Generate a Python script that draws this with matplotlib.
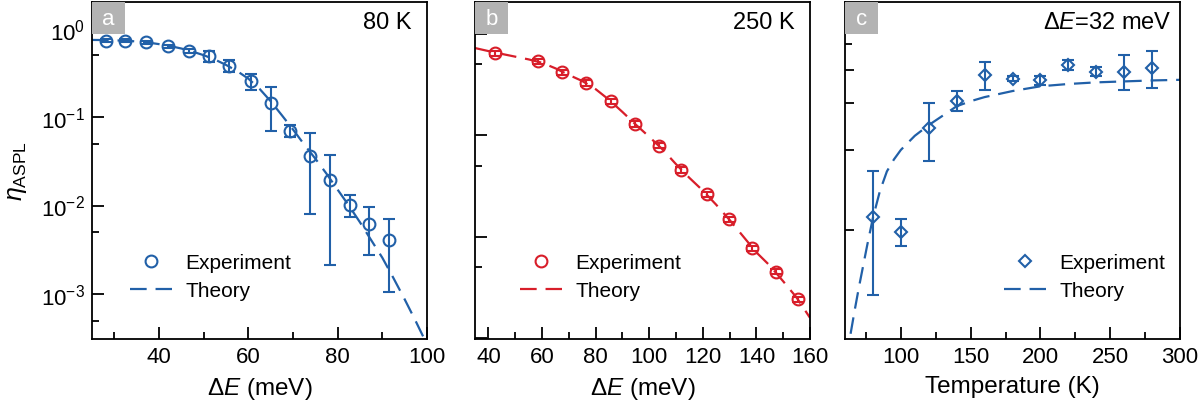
import matplotlib
matplotlib.use("Agg")
import matplotlib.pyplot as plt
from matplotlib.patches import Rectangle
from matplotlib.lines import Line2D
from matplotlib.ticker import FixedLocator, NullFormatter, LogFormatterSciNotation

plt.rcParams['font.family'] = ['Liberation Sans', 'DejaVu Sans']
plt.rcParams['mathtext.fontset'] = 'custom'
plt.rcParams['mathtext.rm'] = 'Liberation Sans'
plt.rcParams['mathtext.it'] = 'Liberation Sans:italic'
plt.rcParams['mathtext.sf'] = 'Liberation Sans'

# ---------------- data ----------------
# Panel a: 80 K
a_E = [28.1, 32.5, 37.2, 42.1, 46.7, 51.2, 55.7, 60.5, 65.0, 69.3, 73.8, 78.3, 82.8, 87.1, 91.6]
a_eta = [0.73, 0.73, 0.70, 0.63, 0.56, 0.49, 0.38, 0.258, 0.143, 0.070, 0.0366, 0.0196, 0.0102, 0.0062, 0.0041]
a_lo = [0.70, 0.70, 0.67, 0.60, 0.53, 0.42, 0.32, 0.205, 0.070, 0.060, 0.0080, 0.00215, 0.0074, 0.00279, 0.00105]
a_hi = [0.76, 0.76, 0.73, 0.66, 0.59, 0.56, 0.44, 0.31, 0.217, 0.082, 0.0656, 0.0376, 0.0132, 0.0096, 0.0071]
a_th_E = [25, 27.5, 30, 32.5, 35, 37.5, 40, 42.5, 45, 47.5, 50, 52.5, 55, 57.5, 60, 62.5, 65,
          67.5, 70, 72.5, 75, 77.5, 80, 82.5, 85, 87.5, 90, 92.5, 95, 97.5, 100]
a_th_eta = [0.745, 0.743, 0.738, 0.730, 0.716, 0.697, 0.668, 0.635, 0.596, 0.550, 0.501, 0.447,
            0.389, 0.331, 0.272, 0.209, 0.151, 0.105, 0.0724, 0.0490, 0.0339, 0.0229, 0.0151,
            0.0100, 0.00646, 0.00407, 0.00257, 0.00151, 0.000871, 0.000490, 0.000269]

# Panel b: 250 K
b_E = [42.5, 58.6, 67.5, 76.6, 85.6, 94.6, 103.6, 111.7, 121.4, 129.7, 138.5, 147.4, 155.5]
b_eta = [0.645, 0.537, 0.419, 0.328, 0.217, 0.129, 0.0789, 0.0454, 0.0263, 0.0149, 0.00767, 0.00451, 0.00242]
b_rel_err = [0.06, 0.06, 0.06, 0.06, 0.06, 0.06, 0.06, 0.06, 0.06, 0.06, 0.06, 0.06, 0.06]
b_th_E = [35, 40, 45, 50, 55, 60, 65, 70, 75, 80, 85, 90, 95, 100, 105, 110, 115, 120, 125,
          130, 135, 140, 145, 150, 155, 160]
b_th_log = [-0.140, -0.170, -0.198, -0.225, -0.252, -0.285, -0.340, -0.405, -0.465, -0.545,
            -0.650, -0.770, -0.895, -1.015, -1.140, -1.285, -1.420, -1.545, -1.685, -1.835,
            -1.995, -2.155, -2.285, -2.440, -2.600, -2.800]

# Panel c: dE = 32 meV
c_T = [80, 100, 120, 140, 160, 180, 200, 220, 240, 260, 280]
c_eta = [0.112, 0.0986, 0.241, 0.306, 0.383, 0.370, 0.366, 0.417, 0.394, 0.394, 0.408]
c_lo = [0.0571, 0.0869, 0.182, 0.281, 0.336, 0.362, 0.352, 0.400, 0.380, 0.336, 0.341]
c_hi = [0.166, 0.110, 0.300, 0.332, 0.430, 0.378, 0.378, 0.437, 0.409, 0.455, 0.472]
c_th_T = [64, 67, 70, 73, 76, 80, 85, 90, 95, 100, 110, 120, 130, 140, 150, 160, 180, 200,
          220, 240, 260, 280, 300]
c_th_eta = [0.0407, 0.0501, 0.0610, 0.0733, 0.0881, 0.111, 0.140, 0.166, 0.184, 0.200, 0.226,
            0.248, 0.269, 0.292, 0.305, 0.316, 0.333, 0.347, 0.354, 0.359, 0.362, 0.365, 0.367]

BLUE = '#2160a8'
RED = '#d81e2a'
FS = 16
DASH = (0, (7.5, 4))

fig = plt.figure(figsize=(12.04, 4.06), dpi=100)
W = 335 / 1204
H = 337 / 406
B = 1 - 340 / 406
axa = fig.add_axes([92 / 1204, B, W, H])
axb = fig.add_axes([475 / 1204, B, W, H])
axc = fig.add_axes([845 / 1204, B, W, H])


def style(ax):
    for s in ax.spines.values():
        s.set_linewidth(1.3)
    ax.tick_params(which='both', direction='in', width=1.3, labelsize=FS, pad=5)
    ax.tick_params(which='major', length=8.5)
    ax.tick_params(which='minor', length=5)


def panel_label(ax, letter):
    ax.add_patch(Rectangle((0, 1 - 0.095), 0.098, 0.095, transform=ax.transAxes,
                           facecolor='#b3b3b3', edgecolor='none', zorder=5, clip_on=False))
    ax.text(0.049, 1 - 0.0475, letter, transform=ax.transAxes, color='white',
            fontsize=FS, ha='center', va='center', zorder=6)


def add_legend(ax, color, marker, ms, x0):
    h_exp = Line2D([], [], ls='none', marker=marker, ms=ms, mfc='none', mec=color, mew=1.5)
    h_th = Line2D([], [], color=color, lw=1.6, ls=DASH)
    ax.legend([h_exp, h_th], ['Experiment', 'Theory'], loc='lower left',
              bbox_to_anchor=(x0, 0.065), frameon=False, fontsize=FS - 1,
              handlelength=2.0, handletextpad=0.65, labelspacing=0.45, borderpad=0.3)


# ---- panel a ----
ax = axa
ax.plot(a_th_E, a_th_eta, color=BLUE, lw=1.6, ls=DASH, zorder=2)
yerr = [[v - l for v, l in zip(a_eta, a_lo)], [h - v for v, h in zip(a_eta, a_hi)]]
ax.errorbar(a_E, a_eta, yerr=yerr, fmt='o', ms=8.5, mfc='none', mec=BLUE, mew=1.5,
            color=BLUE, elinewidth=1.5, capsize=4.5, capthick=1.5, zorder=3)
ax.set_yscale('log')
ax.set_xlim(25, 100)
ax.set_ylim(3.1e-4, 2.0)
ax.yaxis.set_major_locator(FixedLocator([1e-3, 1e-2, 1e-1, 1e0]))
ax.yaxis.set_major_formatter(LogFormatterSciNotation())
ax.yaxis.set_minor_locator(FixedLocator([5e-4, 5e-3, 5e-2, 5e-1]))
ax.yaxis.set_minor_formatter(NullFormatter())
ax.xaxis.set_major_locator(FixedLocator([40, 60, 80, 100]))
ax.xaxis.set_minor_locator(FixedLocator([30, 50, 70, 90]))
ax.set_xlabel(r'$\Delta\mathit{E}$ (meV)', fontsize=FS + 1.5, labelpad=6)
ax.set_ylabel(r'$\mathit{\eta}_{\mathrm{ASPL}}$', fontsize=FS + 2, labelpad=9)
style(ax)
panel_label(ax, 'a')
ax.text(0.955, 0.94, '80 K', transform=ax.transAxes, ha='right', va='center', fontsize=FS + 1)
add_legend(ax, BLUE, 'o', 8.5, 0.065)

# ---- panel b ----
ax = axb
b_th_eta = [10 ** v for v in b_th_log]
ax.plot(b_th_E, b_th_eta, color=RED, lw=1.6, ls=DASH, zorder=2)
b_err = [v * r for v, r in zip(b_eta, b_rel_err)]
ax.errorbar(b_E, b_eta, yerr=b_err, fmt='o', ms=8.5, mfc='none', mec=RED, mew=1.5,
            color=RED, elinewidth=1.5, capsize=4.0, capthick=1.5, zorder=3)
ax.set_yscale('log')
ax.set_xlim(35, 160)
ax.set_ylim(0.98e-3, 2.06)
ax.yaxis.set_major_locator(FixedLocator([1e-3, 1e-2, 1e-1, 1e0]))
ax.yaxis.set_minor_locator(FixedLocator([5e-4, 5e-3, 5e-2, 5e-1]))
ax.yaxis.set_major_formatter(NullFormatter())
ax.yaxis.set_minor_formatter(NullFormatter())
ax.xaxis.set_major_locator(FixedLocator([40, 60, 80, 100, 120, 140, 160]))
ax.xaxis.set_minor_locator(FixedLocator([50, 70, 90, 110, 130, 150]))
ax.set_xlabel(r'$\Delta\mathit{E}$ (meV)', fontsize=FS + 1.5, labelpad=6)
style(ax)
panel_label(ax, 'b')
ax.text(0.955, 0.94, '250 K', transform=ax.transAxes, ha='right', va='center', fontsize=FS + 1)
add_legend(ax, RED, 'o', 8.5, 0.085)

# ---- panel c ----
ax = axc
ax.plot(c_th_T, c_th_eta, color=BLUE, lw=1.6, ls=DASH, zorder=2)
yerr = [[v - l for v, l in zip(c_eta, c_lo)], [h - v for v, h in zip(c_eta, c_hi)]]
ax.errorbar(c_T, c_eta, yerr=yerr, fmt='D', ms=6, mfc='none', mec=BLUE, mew=1.5,
            color=BLUE, elinewidth=1.5, capsize=4.5, capthick=1.5, zorder=3)
ax.set_yscale('log')
ax.set_xlim(60, 300)
ax.set_ylim(0.0389, 0.72)
ax.yaxis.set_major_locator(FixedLocator([0.1, 0.2, 0.3, 0.4]))
ax.yaxis.set_minor_locator(FixedLocator([0.5]))
ax.yaxis.set_major_formatter(NullFormatter())
ax.yaxis.set_minor_formatter(NullFormatter())
ax.xaxis.set_major_locator(FixedLocator([100, 150, 200, 250, 300]))
ax.xaxis.set_minor_locator(FixedLocator([75, 125, 175, 225, 275]))
ax.set_xlabel('Temperature (K)', fontsize=FS + 1.5, labelpad=6)
style(ax)
ax.tick_params(axis='y', which='major', length=6.5)
panel_label(ax, 'c')
ax.text(0.976, 0.94, r'$\Delta\mathit{E}$=32 meV', transform=ax.transAxes, ha='right',
        va='center', fontsize=FS + 1)
add_legend(ax, BLUE, 'D', 6, 0.425)

fig.savefig('out.png', dpi=100)
